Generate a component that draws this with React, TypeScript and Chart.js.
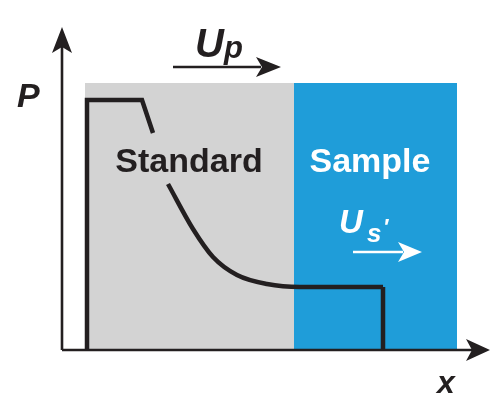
import React, { useEffect, useRef } from "react";
import { Chart, registerables } from "chart.js";

Chart.register(...registerables);

// Position along the target (x) and pressure (P), in diagram units.
const standardRegion = [
  { x: 23, y: 267 },
  { x: 232, y: 267 },
];
const sampleRegion = [
  { x: 232, y: 267 },
  { x: 395, y: 267 },
];
// Flat-top pulse entering the standard, up to the release fan
const pulseFront = [
  { x: 25, y: 0 },
  { x: 25, y: 250 },
  { x: 80, y: 250 },
  { x: 91, y: 217 },
];
// Release wave decaying to the transmitted pressure level
const releaseTail = [
  { x: 106, y: 166 },
  { x: 131, y: 121 },
  { x: 151, y: 93 },
  { x: 175, y: 75 },
  { x: 205, y: 66 },
  { x: 238, y: 63 },
  { x: 321, y: 63 },
];
const shockFront = [
  { x: 321, y: 63 },
  { x: 321, y: 0 },
];

const INK = "#231f20";
const GREY = "#d3d3d3";
const BLUE = "#1f9dd9";
const FONT = "'Liberation Sans', Arial, Helvetica, sans-serif";

function arrowHead(
  ctx: CanvasRenderingContext2D,
  tipX: number,
  tipY: number,
  angle: number,
  len: number,
  half: number,
  notch: number,
  color: string
) {
  ctx.save();
  ctx.translate(tipX, tipY);
  ctx.rotate(angle);
  ctx.fillStyle = color;
  ctx.beginPath();
  ctx.moveTo(0, 0);
  ctx.lineTo(-len, -half);
  ctx.lineTo(-len + notch, 0);
  ctx.lineTo(-len, half);
  ctx.closePath();
  ctx.fill();
  ctx.restore();
}

function arrow(
  ctx: CanvasRenderingContext2D,
  x0: number,
  x1: number,
  y: number,
  color: string,
  len: number,
  half: number
) {
  ctx.save();
  ctx.strokeStyle = color;
  ctx.lineWidth = 2.6;
  ctx.beginPath();
  ctx.moveTo(x0, y);
  ctx.lineTo(x1 - len + 5, y);
  ctx.stroke();
  ctx.restore();
  arrowHead(ctx, x1, y, 0, len, half, 6, color);
}

const annotations = {
  id: "annotations",
  afterDatasetsDraw(chart: Chart) {
    const { ctx, chartArea } = chart;
    const left = chartArea.left;
    const bottom = chartArea.bottom;

    ctx.save();
    // axes
    ctx.strokeStyle = INK;
    ctx.lineWidth = 2.6;
    ctx.beginPath();
    ctx.moveTo(left, bottom);
    ctx.lineTo(left, chartArea.top + 10);
    ctx.moveTo(left, bottom);
    ctx.lineTo(chartArea.right - 10, bottom);
    ctx.stroke();
    arrowHead(ctx, left, chartArea.top - 3, -Math.PI / 2, 26, 10, 6, INK);
    arrowHead(ctx, chartArea.right, bottom, 0, 24, 11, 6, INK);

    // axis titles
    ctx.fillStyle = INK;
    ctx.textBaseline = "alphabetic";
    ctx.textAlign = "left";
    ctx.font = `italic bold 34px ${FONT}`;
    ctx.fillText("P", 17, 107);
    ctx.font = `italic bold 32px ${FONT}`;
    ctx.fillText("x", 437, 393);

    // particle velocity
    ctx.font = `italic bold 40px ${FONT}`;
    ctx.fillText("U", 195, 57);
    ctx.font = `italic bold 31px ${FONT}`;
    ctx.fillText("p", 224, 58);
    arrow(ctx, 173, 281, 67, INK, 25, 10);

    // region labels
    ctx.textAlign = "center";
    ctx.font = `bold 34px ${FONT}`;
    ctx.fillStyle = INK;
    ctx.fillText("Standard", 189, 172);
    ctx.fillStyle = "#ffffff";
    ctx.fillText("Sample", 370, 172);

    // shock velocity in the sample
    ctx.textAlign = "left";
    ctx.font = `italic bold 33px ${FONT}`;
    ctx.fillText("U", 339, 233);
    ctx.font = `italic bold 26px ${FONT}`;
    ctx.fillText("s", 367, 242);
    ctx.font = `italic bold 22px ${FONT}`;
    ctx.fillText("\u2032", 383, 234);
    arrow(ctx, 353, 422, 252, "#ffffff", 24, 10);
    ctx.restore();
  },
};

export default function App() {
  const ref = useRef<HTMLCanvasElement | null>(null);

  useEffect(() => {
    if (!ref.current) return;
    const region = (data: { x: number; y: number }[], color: string) => ({
      data,
      borderWidth: 0,
      pointRadius: 0,
      fill: "origin",
      backgroundColor: color,
      borderColor: color,
      order: 10,
    });
    const profile = (data: { x: number; y: number }[], smooth: boolean) => ({
      data,
      borderColor: INK,
      borderWidth: 4.5,
      pointRadius: 0,
      fill: false,
      borderJoinStyle: "miter" as const,
      cubicInterpolationMode: smooth ? ("monotone" as const) : ("default" as const),
      order: 1,
    });
    const chart = new Chart(ref.current, {
      type: "line",
      data: {
        datasets: [
          region(standardRegion, GREY),
          region(sampleRegion, BLUE),
          profile(pulseFront, false),
          profile(releaseTail, true),
          profile(shockFront, false),
        ],
      },
      options: {
        animation: false,
        responsive: false,
        layout: { padding: { left: 62, top: 30, right: 0, bottom: 45 } },
        plugins: { legend: { display: false }, tooltip: { enabled: false } },
        scales: {
          x: { type: "linear", min: 0, max: 428, display: false },
          y: { type: "linear", min: 0, max: 320, display: false },
        },
      },
      plugins: [annotations],
    });
    return () => chart.destroy();
  }, []);

  return (
    <div style={{ position: "fixed", left: 0, top: 0, width: 490, height: 395, background: "#fff" }}>
      <canvas ref={ref} width={490} height={395} />
    </div>
  );
}
